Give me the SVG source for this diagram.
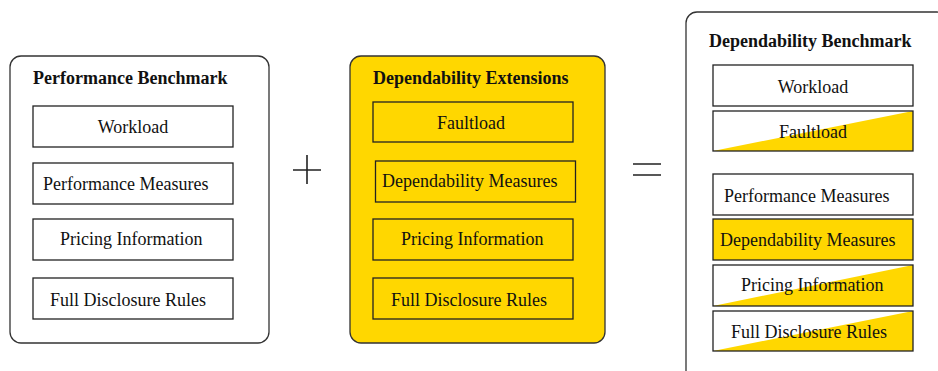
<svg xmlns="http://www.w3.org/2000/svg" width="938" height="371" viewBox="0 0 938 371">
<style>
.outer{fill:#fff;stroke:#333;stroke-width:1.3}
.gold{fill:#FFD700}
.white{fill:#fff}
.box{fill:#fff;stroke:#222;stroke-width:1.3}
.gbox{fill:#FFD700;stroke:#222;stroke-width:1.3}
.frame{fill:none;stroke:#222;stroke-width:1.3}
text{font-family:"Liberation Serif","Times New Roman",serif;font-size:18px;fill:#111}
.t{font-weight:bold}
.op{stroke:#222;stroke-width:1.6;fill:none}
</style>
<rect width="938" height="371" fill="#fff"/>
<g id="performance-benchmark">
<rect class="outer" x="10" y="56" width="259" height="287" rx="11"/>
<text class="t" x="33" y="84">Performance Benchmark</text>
<g id="pb-workload"><rect class="box" x="33" y="106" width="200" height="41"/><text x="133" y="133" text-anchor="middle">Workload</text></g>
<g id="pb-perf"><rect class="box" x="33" y="163" width="200" height="41"/><text x="43" y="190">Performance Measures</text></g>
<g id="pb-pricing"><rect class="box" x="33" y="219" width="200" height="41"/><text x="60" y="245">Pricing Information</text></g>
<g id="pb-disclosure"><rect class="box" x="33" y="278" width="200" height="41"/><text x="50" y="306">Full Disclosure Rules</text></g>
</g>
<g id="plus"><path class="op" d="M293 170H321M307 155V184"/></g>
<g id="dependability-extensions">
<rect class="outer" style="fill:#FFD700" x="350" y="56" width="255" height="287" rx="11"/>
<text class="t" x="373" y="84">Dependability Extensions</text>
<g id="de-faultload"><rect class="gbox" x="373" y="102" width="200" height="40"/><text x="471" y="129" text-anchor="middle">Faultload</text></g>
<g id="de-measures"><rect class="gbox" x="375.5" y="161" width="200" height="41"/><text x="382" y="187">Dependability Measures</text></g>
<g id="de-pricing"><rect class="gbox" x="373" y="219" width="200" height="41"/><text x="401" y="245">Pricing Information</text></g>
<g id="de-disclosure"><rect class="gbox" x="373" y="278" width="200" height="41"/><text x="391" y="306">Full Disclosure Rules</text></g>
</g>
<g id="equals"><path class="op" d="M633 164H661M633 175H661"/></g>
<g id="dependability-benchmark">
<rect class="outer" x="686" y="12" width="262" height="380" rx="11"/>
<text class="t" x="709" y="47">Dependability Benchmark</text>
<g id="db-workload"><rect class="box" x="713" y="65" width="200" height="41"/><text x="813" y="93" text-anchor="middle">Workload</text></g>
<g id="db-faultload"><rect class="white" x="713" y="111" width="200" height="40"/><polygon class="gold" points="713,151 913,111 913,151"/><rect class="frame" x="713" y="111" width="200" height="40"/><text x="813" y="138" text-anchor="middle">Faultload</text></g>
<g id="db-perf"><rect class="box" x="713" y="174" width="200" height="41"/><text x="724" y="202">Performance Measures</text></g>
<g id="db-dep"><rect class="gbox" x="713" y="219" width="200" height="41"/><text x="720" y="246">Dependability Measures</text></g>
<g id="db-pricing"><rect class="white" x="713" y="265" width="200" height="41"/><polygon class="gold" points="713,306 913,265 913,306"/><rect class="frame" x="713" y="265" width="200" height="41"/><text x="741" y="291">Pricing Information</text></g>
<g id="db-disclosure"><rect class="white" x="713" y="311" width="200" height="40"/><polygon class="gold" points="713,351 913,311 913,351"/><rect class="frame" x="713" y="311" width="200" height="40"/><text x="731" y="338">Full Disclosure Rules</text></g>
</g>
</svg>
